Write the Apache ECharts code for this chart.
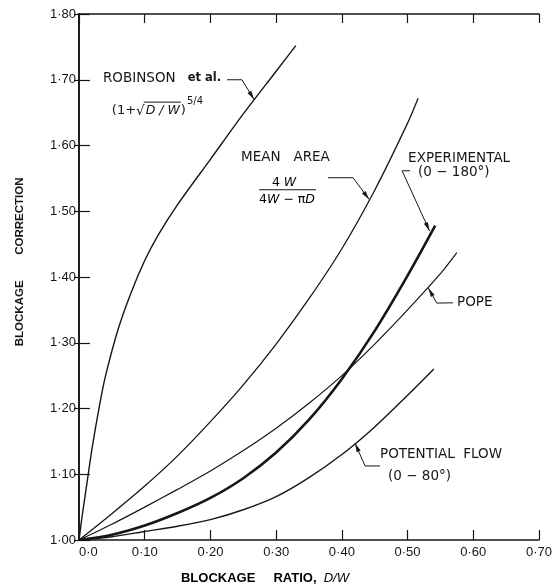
<!DOCTYPE html>
<html>
<head>
<meta charset="utf-8">
<script src="https://cdn.jsdelivr.net/npm/echarts@6/dist/echarts.min.js"></script>
<style>
  html, body { margin: 0; padding: 0; background: #fff; }
  #chart { width: 560px; height: 586px; }
</style>
</head>
<body>
<div id="chart"></div>
<script>
// Blockage correction versus blockage ratio D/W
const robinsonX = [0, 0.005, 0.01, 0.02, 0.03, 0.04, 0.06, 0.08, 0.10, 0.12, 0.15, 0.20, 0.25, 0.30, 0.33];
const robinsonY = [1.0, 1.038, 1.072, 1.140, 1.198, 1.248, 1.322, 1.378, 1.425, 1.463, 1.510, 1.579, 1.648, 1.713, 1.752];

const meanAreaX = [0, 0.05, 0.10, 0.15, 0.20, 0.25, 0.30, 0.35, 0.40, 0.45, 0.50, 0.516];
const meanAreaY = [1.0, 1.040, 1.082, 1.128, 1.180, 1.236, 1.298, 1.367, 1.443, 1.532, 1.634, 1.672];

const popeX = [0, 0.05, 0.10, 0.15, 0.20, 0.25, 0.30, 0.35, 0.40, 0.45, 0.50, 0.55, 0.575];
const popeY = [1.0, 1.024, 1.050, 1.077, 1.105, 1.136, 1.170, 1.208, 1.250, 1.298, 1.350, 1.405, 1.437];

const experimentalX = [0, 0.05, 0.10, 0.15, 0.20, 0.25, 0.30, 0.35, 0.40, 0.45, 0.50, 0.542];
const experimentalY = [1.0, 1.008, 1.022, 1.041, 1.064, 1.094, 1.133, 1.183, 1.245, 1.318, 1.402, 1.478];

const potentialX = [0, 0.05, 0.10, 0.15, 0.20, 0.25, 0.30, 0.35, 0.40, 0.45, 0.50, 0.54];
const potentialY = [1.0, 1.005, 1.013, 1.021, 1.031, 1.046, 1.066, 1.095, 1.130, 1.172, 1.220, 1.260];

const xTicks = [0, 0.1, 0.2, 0.3, 0.4, 0.5, 0.6, 0.7];
const xTickLabels = ['0·0', '0·10', '0·20', '0·30', '0·40', '0·50', '0·60', '0·70'];
const yTickLabels = ['1·00', '1·10', '1·20', '1·30', '1·40', '1·50', '1·60', '1·70', '1·80'];

const INK = '#161616';
const FONT = '"Liberation Sans", "DejaVu Sans", Arial, sans-serif';
const NOTE_FONT = '"DejaVu Sans", "Liberation Sans", sans-serif';

function pairs(xs, ys) { return xs.map((x, i) => [x, ys[i]]); }

function curve(name, xs, ys, width) {
  return {
    name, type: 'line', data: pairs(xs, ys),
    showSymbol: false, smooth: 0.3,
    lineStyle: { color: INK, width }, silent: true, z: 3
  };
}

const axisLine = { show: true, lineStyle: { color: INK, width: 1.6 } };
const labelStyle = { color: INK, fontFamily: FONT, fontSize: 13 };

const chart = echarts.init(document.getElementById('chart'), null, { renderer: 'canvas' });

chart.setOption({
  animation: false,
  backgroundColor: '#fff',
  grid: { left: 79, right: 21, top: 14, bottom: 46, containLabel: false },
  xAxis: [
    {
      type: 'value', min: 0, max: 0.7, interval: 0.1, position: 'bottom',
      axisLine, splitLine: { show: false },
      axisTick: { inside: true, length: 10, lineStyle: { color: INK, width: 1.2 } },
      axisLabel: {
        ...labelStyle, margin: 6, alignMinLabel: 'left',
        formatter: v => xTickLabels[xTicks.findIndex(t => Math.abs(t - v) < 1e-6)] || ''
      }
    },
    {
      type: 'value', min: 0, max: 0.7, interval: 0.1, position: 'top',
      axisLine, splitLine: { show: false },
      axisTick: { inside: true, length: 9, lineStyle: { color: INK, width: 1.2 } },
      axisLabel: { show: false }
    }
  ],
  yAxis: [
    {
      type: 'value', min: 1.0, max: 1.8, interval: 0.1, position: 'left',
      axisLine, splitLine: { show: false },
      axisTick: { inside: true, length: 11, lineStyle: { color: INK, width: 1.2 } },
      axisLabel: {
        ...labelStyle, margin: 3,
        formatter: v => yTickLabels[Math.round((v - 1) * 10)] || ''
      }
    },
    {
      type: 'value', min: 1.0, max: 1.8, interval: 0.1, position: 'right',
      axisLine, splitLine: { show: false },
      axisTick: { inside: true, length: 5, lineStyle: { color: INK, width: 1.2 } },
      axisLabel: { show: false }
    }
  ],
  series: [
    curve('ROBINSON et al.', robinsonX, robinsonY, 1.4),
    curve('MEAN AREA', meanAreaX, meanAreaY, 1.3),
    curve('POPE', popeX, popeY, 1.2),
    curve('EXPERIMENTAL (0-180°)', experimentalX, experimentalY, 2.6),
    curve('POTENTIAL FLOW (0-80°)', potentialX, potentialY, 1.4)
  ]
});

// Callouts, placed in data units and converted to pixels
const toPx = p => chart.convertToPixel({ gridIndex: 0 }, p);

const labels = [
  { at: [0.0365, 1.702], text: '{a|ROBINSON}{b|   et al.}' },
  { at: [0.2466, 1.5814], text: '{a|MEAN   AREA}' },
  { at: [0.5008, 1.580], text: '{a|EXPERIMENTAL}' },
  { at: [0.516, 1.5586], text: '{a|(0 − 180°)}' },
  { at: [0.5753, 1.3607], text: '{a|POPE}' },
  { at: [0.4581, 1.1294], text: '{a|POTENTIAL  FLOW}' },
  { at: [0.4703, 1.0959], text: '{a|(0 − 80°)}' }
];

const leaders = [
  [[0.2253, 1.700], [0.248, 1.700], [0.2664, 1.670]],
  [[0.379, 1.551], [0.417, 1.551], [0.4415, 1.5180]],
  [[0.5038, 1.5616], [0.4916, 1.5616], [0.5335, 1.4700]],
  [[0.5692, 1.3607], [0.5444, 1.3603], [0.5317, 1.3831]],
  [[0.4581, 1.1126], [0.4353, 1.1126], [0.4201, 1.1472]]
];

const rich = {
  a: { fontFamily: NOTE_FONT, fontSize: 13.5, color: INK },
  b: { fontFamily: NOTE_FONT, fontSize: 11.5, fontWeight: 'bold', color: INK }
};
const fracRich = {
  a: { fontFamily: NOTE_FONT, fontSize: 12.5, color: INK },
  i: { fontFamily: NOTE_FONT, fontSize: 12.5, fontStyle: 'italic', color: INK }
};

// text width helper for composing the formulas piece by piece
const measureCtx = document.createElement('canvas').getContext('2d');
function textWidth(str, size, italic) {
  measureCtx.font = (italic ? 'italic ' : '') + size + 'px ' + NOTE_FONT;
  return measureCtx.measureText(str).width;
}

const g = [];
labels.forEach(l => {
  const [x, y] = toPx(l.at);
  g.push({ type: 'text', x, y, style: { text: l.text, rich, fill: INK, align: 'left', verticalAlign: 'middle' }, z: 10 });
});

leaders.forEach(pts => {
  const px = pts.map(toPx);
  g.push({ type: 'polyline', shape: { points: px }, style: { stroke: INK, lineWidth: 1, fill: null }, z: 10 });
  // arrowhead at the curve end
  const [x1, y1] = px[px.length - 2];
  const [x2, y2] = px[px.length - 1];
  const ang = Math.atan2(y2 - y1, x2 - x1);
  const L = 9, W = 2.2;
  const bx = x2 - L * Math.cos(ang), by = y2 - L * Math.sin(ang);
  g.push({
    type: 'polygon',
    shape: { points: [[x2, y2], [bx - W * Math.sin(ang), by + W * Math.cos(ang)], [bx + W * Math.sin(ang), by - W * Math.cos(ang)]] },
    style: { fill: INK }, z: 10
  });
});

// Robinson formula (1 + √(D/W))^(5/4)
{
  let [x, y] = toPx([0.050, 1.653]);
  const put = (str, size, italic, dy) => {
    g.push({ type: 'text', x, y: y + (dy || 0), style: { text: str, fontFamily: NOTE_FONT, fontSize: size, fontStyle: italic ? 'italic' : 'normal', fill: INK, verticalAlign: 'middle' }, z: 10 });
    const w = textWidth(str, size, italic);
    x += w;
    return w;
  };
  put('(1+', 13, false);
  put('√', 13.5, false, 1);
  const ox = x - 1;
  x += 1;
  put('D / W', 12.5, true);
  g.push({ type: 'line', shape: { x1: ox, y1: y - 8.5, x2: x + 1, y2: y - 8.5 }, style: { stroke: INK, lineWidth: 1 }, z: 10 });
  x += 1;
  put(')', 13, false);
  x += 1;
  put('5/4', 10, false, -9);
}

// Mean-area formula 4W / (4W − πD)
{
  const [cx, ly] = toPx([0.3166, 1.5327]);
  const [lx0] = toPx([0.274, 1.5327]);
  const [lx1] = toPx([0.3607, 1.5327]);
  g.push({ type: 'line', shape: { x1: lx0, y1: ly, x2: lx1, y2: ly }, style: { stroke: INK, lineWidth: 1.1 }, z: 10 });
  g.push({ type: 'text', x: cx - 3, y: ly - 6.5, style: { text: '{a|4 }{i|W}', rich: fracRich, align: 'center', verticalAlign: 'middle' }, z: 10 });
  g.push({ type: 'text', x: cx, y: ly + 10, style: { text: '{a|4}{i|W}{a| − π}{i|D}', rich: fracRich, align: 'center', verticalAlign: 'middle' }, z: 10 });
}

// Axis titles
{
  const [xc] = toPx([0.283, 1]);
  g.push({
    type: 'text', x: xc, y: 578,
    style: { text: '{a|BLOCKAGE     RATIO,  }{i|D/W}', rich: { a: { fontFamily: FONT, fontSize: 13, fontWeight: 'bold', color: INK }, i: { fontFamily: FONT, fontSize: 13, fontStyle: 'italic', color: INK } }, align: 'center', verticalAlign: 'middle' },
    z: 10
  });
  const [, yc] = toPx([0, 1.423]);
  g.push({
    type: 'text', x: 20, y: yc, rotation: Math.PI / 2,
    style: { text: 'BLOCKAGE        CORRECTION', fontFamily: FONT, fontSize: 11.5, fontWeight: 'bold', fill: INK, align: 'center', verticalAlign: 'middle' },
    z: 10
  });
}

chart.setOption({ graphic: g });
</script>
</body>
</html>
